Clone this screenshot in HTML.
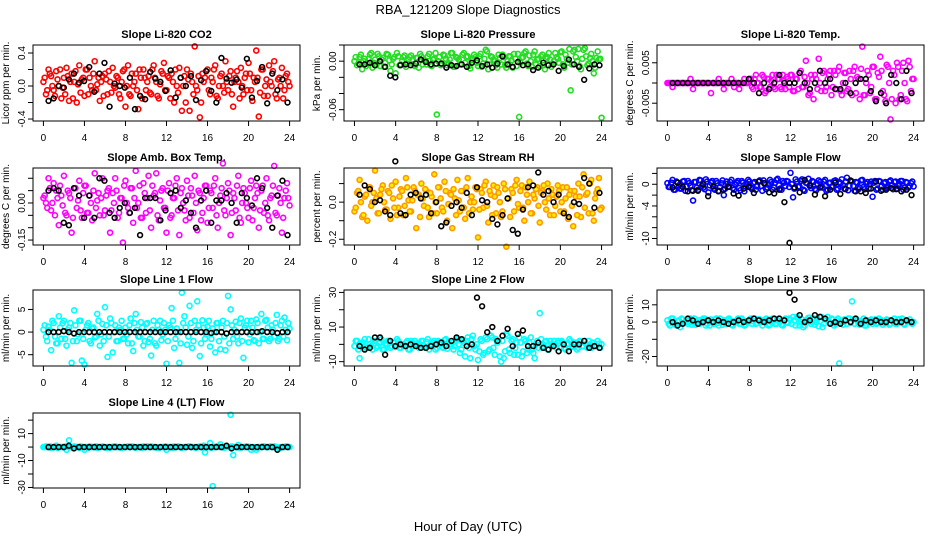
<!DOCTYPE html>
<html><head><meta charset="utf-8"><style>
html,body{margin:0;padding:0;background:#fff;}
svg{display:block;font-family:"Liberation Sans",Arial,sans-serif;}
</style></head><body>
<svg id="chart" width="936" height="540" viewBox="0 0 936 540" xmlns="http://www.w3.org/2000/svg">
<text x="468" y="14" text-anchor="middle" font-size="13">RBA_121209  Slope Diagnostics</text>
<text x="468" y="531" text-anchor="middle" font-size="13">Hour of Day (UTC)</text>
</svg>
<script>
// ---- data ----
// colored series A: every 0.25 h from 0 to 24; colored series B: 0.125 h offset; black series: ~every 0.5 h from 0.5 to 23.8
const xTicks = [0,4,8,12,16,20,24];
const co2Vals = [0.05,-0.1,0.2,0.12,-0.05,0.18,0.0,-0.15, 0.1,0.22,-0.18,0.15,0.05,-0.2,0.25,0.08, -0.12,0.2,0.1,-0.05,0.3,0.02,-0.18,0.12, 0.15,-0.1,0.05,0.22,-0.02,0.1,-0.15,0.18, -0.25,0.25,-0.12,0.0,0.15,-0.28,0.1,0.2, -0.05,0.12,-0.1,0.25,0.05,-0.15,0.18,0.28, -0.05,0.1,0.15,-0.2,0.0,0.22,-0.3,0.12, 0.2,-0.3,0.05,0.48,-0.05,-0.38,0.15,0.1, 0.2,-0.1,0.05,0.25,-0.15,0.12,0.0,0.3, -0.05,0.18,-0.25,0.1,0.05,0.22,-0.1,0.15, 0.28,-0.05,0.1,0.43,-0.37,0.2,-0.12,0.08, 0.25,0.0,0.3,-0.15,0.1,0.22,-0.05,0.15, 0.0];
const co2ValsB = [0.1,-0.05,0.15,0.0,-0.12,0.08,0.2,-0.02, -0.1,0.12,0.05,-0.15,0.18,0.02,-0.08,0.1, 0.2,-0.1,0.0,0.15,-0.05,0.1,0.05,-0.12, 0.08,0.18,-0.08,0.0,0.12,-0.1,0.05,0.2, 0.0,-0.1,0.15,0.05,-0.05,0.2,-0.15,0.1, 0.05,-0.08,0.2,0.1,-0.12,0.02,0.15,-0.05, 0.12,-0.15,0.05,0.2,-0.08,0.1,0.0,-0.2, 0.08,0.15,-0.1,0.0,0.12,-0.2,0.05,0.18, -0.05,0.1,0.2,-0.12,0.0,0.15,-0.08,0.05, 0.12,-0.1,0.05,0.18,-0.15,0.0,0.1,-0.05, 0.15,-0.18,0.05,0.1,-0.08,0.2,0.0,-0.12, 0.05,0.18,-0.1,0.08,0.0,-0.15,0.12,0.05];
const co2Black = [-0.18,-0.15,0.0,-0.02,0.08,0.15,0.04,0.06, 0.23,-0.07,0.15,0.28,-0.25,0.03,0.0,-0.02, 0.1,-0.28,-0.12,-0.16,0.17,0.09,0.05,-0.06, 0.19,-0.14,0.1,0.0,0.12,-0.17,0.07,0.18, -0.06,-0.2,0.34,0.09,0.04,0.08,-0.02,0.33, -0.14,0.06,0.23,-0.21,0.15,-0.05,0.08,-0.2];
const presVals = [0.0,-0.005,0.005,-0.01,0.003,-0.003,0.008,-0.008, 0.002,0.009,-0.006,0.004,-0.002,0.008,-0.012,0.003, -0.015,0.006,-0.004,0.005,-0.007,0.002,0.007,-0.005, 0.004,-0.008,0.006,0.001,-0.004,0.009,-0.006,0.003, -0.066,0.005,-0.003,0.007,-0.005,0.002,0.01,-0.007, 0.004,-0.004,0.008,-0.002,0.006,-0.009,0.003,0.005, -0.006,0.009,-0.003,0.014,-0.01,0.006,0.002,-0.005, 0.008,-0.004,0.005,-0.008,0.006,0.001,0.009,-0.006, -0.069,0.004,0.01,-0.003,0.007,-0.007,0.012,0.002, -0.006,0.008,-0.01,0.005,0.002,-0.004,0.01,0.003, 0.011,-0.004,0.008,-0.002,-0.036,0.012,0.005,0.015, -0.01,0.014,0.006,-0.003,0.009,-0.015,0.004,0.002, -0.07];
const presValsB = [0.005,-0.003,0.008,0.0,-0.006,0.003,0.01,-0.002, -0.005,0.006,0.002,-0.007,0.009,0.001,-0.004,0.005, 0.01,-0.005,0.0,0.007,-0.003,0.005,0.002,-0.006, 0.004,0.009,-0.004,0.0,0.006,-0.005,0.002,0.01, 0.0,-0.005,0.008,0.003,-0.002,0.01,-0.007,0.005, 0.002,-0.004,0.01,0.005,-0.006,0.001,0.008,-0.002, 0.006,-0.007,0.003,0.012,-0.004,0.005,0.0,-0.008, 0.004,0.008,-0.005,0.0,0.006,-0.008,0.003,0.009, -0.002,0.005,0.012,-0.006,0.0,0.008,-0.004,0.003, 0.006,-0.005,0.003,0.01,-0.007,0.0,0.005,-0.002, 0.012,-0.008,0.003,0.015,-0.004,0.014,0.0,-0.006, 0.003,0.016,-0.005,0.004,0.0,-0.008,0.012,0.003];
const presBlack = [-0.004,-0.004,-0.002,-0.005,0.0,-0.007,-0.018,-0.02, -0.005,-0.004,-0.005,-0.003,0.002,-0.001,-0.004,-0.003, -0.003,-0.008,-0.005,-0.006,-0.004,-0.007,-0.002,0.001, -0.006,-0.004,-0.008,-0.003,0.006,-0.004,-0.007,-0.001, -0.005,-0.004,-0.011,-0.008,-0.002,-0.005,-0.004,-0.012, -0.006,0.002,-0.004,-0.007,-0.023,-0.009,-0.004,-0.005];
const tempVals = [0,0,-0.001,0,0,0,0,0, 0,0.001,-0.0015,0,0,0,0,0, 0,-0.0025,0,0,0.001,0,-0.0015,0, 0,0.001,-0.001,0,-0.0015,0,0.001,0, 0.001,-0.001,0.001,0,-0.001,0.002,-0.0025,0.001, -0.001,0.002,-0.0015,0.001,-0.001,0.002,-0.0015,0.001, 0.002,-0.002,0.001,-0.0015,0.003,-0.001,0.0055,-0.003, 0.002,-0.004,0.001,0.006,-0.002,0.003,-0.001,0.002, -0.003,0.003,-0.0015,0.004,-0.003,0.0025,-0.002,0.003, -0.003,0.004,0.0015,-0.004,0.009,-0.003,0.003,-0.0025, 0.004,-0.004,0.0025,0.0065,-0.002,-0.0045,0.004,-0.009, 0.003,-0.005,0.004,-0.003,0.005,-0.004,0.0055,-0.002, 0.001];
const tempValsB = [0,0,0,0,0,0,0,0, 0,0,0,0,0,0,0,0, 0,0,0,0,0,0,0,0, 0,0,0,0,0,0,0,0, 0.001,-0.0015,0.002,0.0,-0.001,0.0015,-0.002,0.001, 0.0005,-0.001,0.002,0.001,-0.0015,0.0005,0.0015,-0.001, 0.002,-0.002,0.001,0.0025,-0.001,0.0015,0.0,-0.0025, 0.001,0.002,-0.0015,0.0,0.0025,-0.002,0.001,0.003, -0.001,0.002,0.003,-0.002,0.0,0.0025,-0.0015,0.001, 0.003,-0.0025,0.001,0.0035,-0.003,0.0,0.002,-0.001, 0.004,-0.004,0.0015,0.003,-0.003,0.0045,0.0,-0.004, 0.002,0.005,-0.004,0.003,0.0,-0.0045,0.004,0.001];
const tempBlack = [0,0,0,0,0,0,0,0, 0,0,0,0,0,0,0,0.001, 0,-0.0025,0,-0.0015,0,0.002,0,0, 0,0.0025,0,-0.0015,0,0.003,0,0.001, -0.0015,-0.0015,0,-0.0025,0,0.001,0.001,-0.002, -0.0045,-0.0025,-0.005,0.002,0,-0.004,0.003,-0.0025];
const ambVals = [0.02,0.0,0.1,-0.03,0.08,0.05,-0.09,0.03, 0.11,-0.05,0.04,-0.12,0.06,-0.02,0.09,-0.06, 0.07,-0.04,0.03,-0.07,0.12,0.01,-0.05,0.1, -0.03,0.05,-0.12,0.04,0.1,-0.06,0.02,-0.16, 0.09,-0.02,0.06,-0.08,0.13,0.0,-0.06,0.08, -0.04,0.11,-0.1,0.03,0.12,-0.07,0.05,-0.02, -0.12,0.08,-0.05,0.02,0.1,-0.13,0.06,-0.03, 0.09,-0.06,0.03,0.11,-0.11,0.04,-0.04,0.07, -0.08,0.05,-0.02,0.1,-0.1,0.03,0.16,-0.05, 0.08,-0.13,0.04,-0.03,0.11,-0.08,0.06,0.0, -0.06,0.09,-0.02,0.07,-0.1,0.05,-0.04,0.1, -0.07,0.03,0.15,-0.05,0.06,-0.12,0.02,0.08, -0.01];
const ambValsB = [0.03,-0.02,0.06,0.0,-0.05,0.02,0.07,-0.01, -0.04,0.05,0.02,-0.06,0.06,0.01,-0.03,0.04, 0.07,-0.04,0.0,0.05,-0.02,0.04,0.02,-0.05, 0.03,0.06,-0.03,0.0,0.05,-0.04,0.02,0.07, 0.0,-0.04,0.06,0.02,-0.02,0.07,-0.06,0.04, 0.02,-0.03,0.07,0.04,-0.05,0.01,0.06,-0.02, 0.05,-0.06,0.02,0.07,-0.03,0.04,0.0,-0.07, 0.03,0.06,-0.04,0.0,0.05,-0.07,0.02,0.07, -0.02,0.04,0.07,-0.05,0.0,0.06,-0.03,0.02, 0.05,-0.04,0.02,0.07,-0.06,0.0,0.04,-0.02, 0.06,-0.07,0.02,0.04,-0.03,0.07,0.0,-0.05, 0.02,0.07,-0.04,0.03,0.0,-0.06,0.05,0.02];
const ambBlack = [0.05,0.06,0.05,-0.08,-0.09,0.06,0.03,-0.06, 0.03,-0.06,0.1,0.09,-0.04,-0.06,-0.02,0.0, -0.04,-0.02,-0.13,0.02,0.02,0.02,-0.07,-0.03, 0.04,0.05,-0.02,0.01,-0.04,-0.1,0.01,0.05, -0.08,0.01,0.01,0.04,0.0,-0.08,0.04,0.02, -0.01,0.1,0.06,-0.02,-0.1,0.03,0.09,-0.13];
const rhVals = [-0.05,0.05,0.12,-0.08,0.03,-0.1,0.08,0.0, 0.17,-0.06,0.04,0.09,-0.04,0.06,-0.09,0.02, 0.11,-0.03,0.07,-0.07,0.13,0.01,-0.05,0.08, -0.14,0.04,0.1,-0.02,0.06,-0.08,0.03,0.15, -0.06,0.08,-0.03,0.11,-0.1,0.05,-0.14,0.02, 0.12,-0.05,0.06,-0.09,0.13,0.0,-0.04,0.08, -0.19,0.07,-0.03,0.11,-0.11,0.04,0.09,-0.06, 0.05,-0.08,0.1,-0.24,0.02,0.07,-0.05,0.12, -0.03,0.09,-0.1,0.04,0.11,-0.06,0.02,0.08, -0.11,0.06,0.0,0.1,-0.07,0.04,-0.02,0.09, -0.05,0.08,0.02,-0.09,0.06,-0.13,0.03,0.1, -0.08,0.15,0.04,-0.06,0.12,-0.1,0.05,0.13, -0.03];
const rhValsB = [-0.03,0.06,0.0,-0.07,0.04,0.08,-0.02,0.05, 0.02,-0.06,0.07,0.0,-0.04,0.05,0.09,-0.03, -0.07,0.03,0.06,-0.02,0.08,-0.05,0.01,0.06, 0.04,-0.08,0.02,0.07,-0.03,0.05,-0.06,0.0, 0.08,0.02,-0.05,0.06,-0.01,0.04,0.07,-0.07, 0.01,0.06,-0.03,0.08,-0.06,0.03,0.0,0.07, -0.04,0.05,0.09,-0.02,0.06,-0.07,0.03,0.08, 0.0,-0.05,0.07,0.02,-0.08,0.05,0.09,-0.01, 0.06,-0.03,0.08,0.0,-0.06,0.04,0.07,-0.02, 0.05,0.09,-0.04,0.02,0.07,-0.07,0.03,0.06, 0.0,-0.05,0.08,0.04,-0.02,0.06,-0.07,0.03, 0.08,-0.03,0.05,0.1,-0.06,0.02,0.07,-0.04];
const rhBlack = [0.04,0.09,0.07,0.0,0.01,-0.05,-0.07,0.22, -0.06,-0.07,0.04,0.05,0.02,0.04,-0.06,0.0, -0.13,-0.11,-0.02,0.0,-0.03,0.05,-0.07,0.08, 0.01,0.0,-0.09,-0.12,-0.07,0.02,-0.15,-0.17, -0.04,0.08,0.09,0.16,0.04,0.06,0.0,0.04, -0.06,-0.08,0.0,-0.01,0.13,0.1,-0.03,0.05];
const sampVals = [0.2,-0.5,0.8,-1.0,0.3,-0.8,0.5,-1.2, 0.6,-0.3,-3.0,0.4,-1.0,0.7,-0.6,0.9, -1.5,0.3,-0.8,0.6,-1.2,0.2,-2.0,0.5, -0.4,0.8,-1.0,0.3,-0.7,0.6,-1.3,0.1, 0.5,-0.9,0.4,-0.4,0.7,-1.2,0.2,-0.6, 0.8,-1.0,0.3,1.0,-0.8,0.6,-0.3,0.5, 2.1,-2.4,0.9,-0.5,0.6,-1.0,0.3,1.0, -0.7,0.4,-1.1,0.7,-0.4,0.5,-1.2,0.2, -0.5,0.6,-1.0,0.4,0.9,-0.8,1.2,-0.3, 0.5,-1.2,0.3,-0.6,0.8,-0.9,0.4,0.1, -2.3,0.6,-0.8,0.5,-1.0,0.4,-0.5,0.7, -0.9,0.5,-0.3,0.6,-1.0,0.4,-0.6,0.2, -0.4];
const sampValsB = [-0.5,0.3,-1.0,0.5,-0.2,-0.8,0.6,-0.4, 0.2,-1.1,0.4,-0.6,0.8,-0.3,-0.9,0.5, -0.2,0.6,-1.0,0.2,-0.5,0.7,-0.8,0.1, 0.4,-0.7,0.0,0.6,-1.1,0.3,-0.4,0.8, -0.6,0.2,-1.0,0.5,-0.3,0.7,-0.9,0.0, 0.4,-0.6,0.8,-0.2,-1.0,0.3,0.6,-0.5, 0.0,-0.8,0.5,-0.4,0.9,-1.2,0.2,-0.3, 0.6,-0.9,0.1,0.4,-0.6,0.8,-1.0,0.3, -0.4,0.7,-0.8,0.2,-0.2,0.5,-1.1,0.6, -0.3,0.4,-0.9,0.7,-0.5,0.1,-0.8,0.5, 0.3,-1.0,0.6,-0.4,0.2,-0.7,0.5,-0.2, 0.4,-0.8,0.1,0.6,-0.6,0.3,-0.3,0.5];
const sampBlack = [-0.6,0.3,-0.5,-1.3,-1.2,-1.2,0.0,-2.2, -0.4,-1.3,-1.0,-0.5,-1.7,-2.1,-0.8,-0.5, -1.6,0.5,0.2,-1.5,-1.7,-1.0,-3.3,-10.8, -0.6,-1.5,0.8,-0.2,-1.9,-0.6,-2.2,-1.0, 0.3,-1.8,-0.9,0.7,-1.3,-1.3,-1.6,-0.8, 0.5,-1.2,-1.0,-0.7,-0.9,-1.3,-1.0,-2.0];
const l1Vals = [0.5,-1,1.2,-4,2,-2.5,3.5,-1.5, 2.5,-3,1,-6.8,4.8,-2,2.5,-6.3, -7.2,1.5,-2,0.8,-1.2,4,-3,1.8, 5.5,-5.5,3,-4.5,1.5,-2,0.5,-1.5, 1,-2.5,3,-4.2,4,-1,2.2,-3, 1.8,-2.2,-5.2,2.5,-3,0.5,-1.8,2, -7,1.5,5.3,-3.5,0.8,-6.8,8.7,3.5, -2.8,5.8,-3.5,2.5,6.8,-5.3,2.6,-1.5, 1.2,-3.2,0.8,-4.5,2,-3.8,2.5,-4, 8,5,-1.5,2.3,-2.5,3,-5.7,1.5, -2.3,2.5,-1.8,2.8,-2.5,4,-1.5,2.7, -2,1.5,-1,3.8,-1.5,2.5,3.2,-1.8, 0.8];
const l1ValsB = [1.5,-2,0.5,2.5,-1,-2.5,1,2, -1.5,0.5,2,-2,1.5,-0.5,2.5,-1.5, 0.5,2,-2.5,1,-1,2.5,-0.5,-2, 1.5,-1,2,0,-2,1,2.5,-1.5, -0.5,1.5,-2.5,2,0.5,-1,1,-2, 2,-1.5,0.5,-2.5,1.5,2.5,-0.5,0.5, -2,1,2.5,-1.5,0,-2.5,2,1, -1,2,-2,0.5,1.5,-2.5,1,-0.5, 2.5,-1.5,0,2,-2,1,-1,2, -2.5,1.5,0.5,-1,2,-2,1,2.5, -0.5,1,-2,2,0,-1.5,2.5,1, -1.5,0.5,2,-2,1.5,-1,0.5,2];
const l1Black = [0,0,0,0.2,0,-0.3,0,0, 0,0,0,0,0,0,0,0, 0,0,0,0,0,0,0,0, 0,0,0,0,0,0,0,0, -0.2,0,0,-0.3,0,0,0,0, 0,0,0.2,0,0,-0.2,0,0];
const l2Vals = [-1,2,-8,1,3,-2,0,-3, 2,-1,1,-3,0.5,2,-2,1, -1.5,2,-2,0,1,-3,2,-1, 0.5,-2,2,-1,1.5,-3,0,2, -2,1,-1.5,2.5,-2.5,0,1,-1, 3,-5,2,-7,4,-8,5,-3, -9,3,-6,4,-4,5,-2,3, 2,-10,-8,6,-3,2,-6,1, 4,-7,3,-5,1,-3,-8,2, 18,-2,1.5,-3,2,-1,0,2, -2,1,-3,0.5,2,-1.5,1,-2, 1.5,-1,0,2,-2,1,-1,0.5, 0];
const l2ValsB = [2,-3,0,1,-2,3,-1,0, -2,1,3,-3,0,2,-1,1, 3,-2,0,-1,2,-3,1,2, -1,0,2,-2,3,-1,1,-3, 2,0,-2,3,1,-1,-3,2, 0,-3,1,2,-2,3,-1,0, -4,2,-5,3,-3,4,-6,1, -7,2,-4,5,-5,3,-2,-6, 1,-4,2,-3,4,-5,0,-2, 3,-1,2,-3,0,2,-2,1, 2,-2,0,3,-1,1,-3,2, -1,2,-2,0,1,-1,2,-2];
const l2Black = [-1,-3,-2,4,4,-6,2,-1, 0,-1,0,-1,-2,-2,-1,0, 1,-1,2,4,3,-1,0,27, 22,7,10,2,5,9,-1,6, 8,-1,-1,1,-2,-3,-1,-4, 0,-4,0,0,2,-2,-1,-2];
const l3Vals = [1,-2,2,-1,0.5,-3,1.5,0, -1,2,0,-1.5,1,-0.5,2,-2, 0.5,1.5,-1,2,-2,0,1,-1, 2,-1.5,0,1,-1,2,-2,0.5, 1,-1,2,-0.5,1.5,-2,0,1, -1.5,2,-1,1,0,-2,2,-0.5, 1.5,3,-2,2,0,-3,1,2.5, -1,2,0,-2.5,3,-1,1.5,0, 2,-2,1,-24,0,1.5,-1,2, 12,-1,1,-1.5,-1,-2,0.5,1, -1,1.5,-0.5,1,-1.5,0.5,1,-1, 0.5,-1,1.5,0,-1,1,0.5,-0.5, 0];
const l3ValsB = [-1,2,0,-2,1,2,-0.5,1, 0,-1.5,2,0,-1,1.5,2,-1, -2,0.5,1.5,-0.5,2,-1.5,0,1.5, 1,-2,0.5,2,-1,1,-1.5,0, 2,0.5,-1,1.5,0,1,2,-2, 0,1.5,-1,2,-1.5,1,0,2, -1,1,3,-2,1.5,-2,1,2.5, 0,-1.5,2,0.5,-3,1.5,3,-0.5, 1.5,-1,2,0,-1.5,1,2,-0.5, 1.5,2,-1,0.5,2,-2,1,1.5, 0,-1,2,1,-0.5,1.5,-1.5,1, 2,-1,1.5,2,-1.5,0.5,1.5,-1];
const l3Black = [0,-2,-1,2,1,-1,0,1, 0,1,0,-1,0,1,0,1, 2,1,0,1,2,2,1,17, 13,4,0,1,4,3,2,-1, 0,-1,1,0,2,-1,1,0, 1,0,0,1,0,0,1,0];
const l4Vals = [0,0.5,0,-0.5,0,1,0,0, 0,-2,5,0,0.5,0,-0.5,0, -2,0,0.5,0,0,-0.5,0,0.5, 0,0,-0.5,0,0.5,0,0,0, 0,0.5,0,0,-0.5,0,0,0.5, 0,0,0.5,0,0,-0.5,0,0, -2,0,0,0.5,0,0,-0.5,0, 0,0.5,0,0,0,0.5,0,-4, 0,3,-29,0,0.5,2,0,0, 0,24,-6,0,1.5,0,0,0.5, 0,-2,0,-2,0,0,0.5,0, 0,0,0.5,0,-1,0,0,0.5, 0];
const l4ValsB = [0,0,0.5,0,0,-0.5,0,0, 0.5,0,0,-0.5,0,0,0.5,0, 0,-0.5,0,0,0.5,0,0,0, -0.5,0,0,0.5,0,0,-0.5,0, 0,0,0.5,0,0,0,-0.5,0, 0.5,0,0,0,-0.5,0,0,0.5, 0,0,-0.5,0,0.5,0,0,0, 0.5,0,0,-0.5,0,0,1,0, 0,-0.5,0,0.5,0,0,-0.5,0, 0,0.5,0,0,-0.5,0,0,0.5, 0,0,-0.5,0,0,0.5,0,0, 0.5,0,0,-0.5,0,0,0.5,0];
const l4Black = [0,0,0,0,1,-1,0,0, 0,0,0,0,0,0,0,0, 0,0,0,0,0,0,0,0, 0,0,0,0,0,0,0,0, 0,0,0,1,-1,0,0,0, 0,0,0,0,0,-2,0,0];

const yTicksCO2=[-0.4,-0.2,0,0.2,0.4], yLabCO2=["-0.4","0.0","0.4"];
const yTicksPres=[0.02,0,-0.02,-0.04,-0.06], yLabPres=["0.00","-0.06"];
const yTicksTemp=[0.005,0,-0.005], yLabTemp=["0.005","-0.005"];
const yTicksAmb=[0.1,0.05,0,-0.05,-0.1,-0.15], yLabAmb=["0.00","-0.15"];
const yTicksRH=[0.1,0,-0.1,-0.2], yLabRH=["0.0","-0.2"];
const yTicksSamp=[2,0,-2,-4,-6,-8,-10], yLabSamp=["0","-4","-10"];
const yTicksL1=[5,0,-5], yLabL1=["5","0","-5"];
const yTicksL2=[30,20,10,0,-10], yLabL2=["30","10","-10"];
const yTicksL3=[10,0,-10,-20], yLabL3=["10","0","-20"];
const yTicksL4=[20,10,0,-10,-20,-30], yLabL4=["10","-10","-30"];

const cols=[[33,300],[344,612],[657,924]];
const rows=[[45,121],[168,245],[290,366],[413,488]];
const panels=[
 {name:"co2",title:"Slope Li-820 CO2",yt:"Licor ppm per min.",c:0,r:0,ymin:-0.424,ymax:0.497,ticks:yTicksCO2,labs:yLabCO2,vals:co2Vals,valsB:co2ValsB,blk:co2Black,stroke:"#ff0000",fill:"none"},
 {name:"pressure",title:"Slope Li-820 Pressure",yt:"kPa per min.",c:1,r:0,ymin:-0.074,ymax:0.02,ticks:yTicksPres,labs:yLabPres,vals:presVals,valsB:presValsB,blk:presBlack,stroke:"#22dd22",fill:"none"},
 {name:"li820-temp",title:"Slope Li-820 Temp.",yt:"degrees C per min.",c:2,r:0,ymin:-0.0094,ymax:0.0094,ticks:yTicksTemp,labs:yLabTemp,vals:tempVals,valsB:tempValsB,blk:tempBlack,stroke:"#ff00ff",fill:"none"},
 {name:"amb-box-temp",title:"Slope Amb. Box Temp.",yt:"degrees C per min.",c:0,r:1,ymin:-0.17,ymax:0.1415,ticks:yTicksAmb,labs:yLabAmb,vals:ambVals,valsB:ambValsB,blk:ambBlack,stroke:"#ff00ff",fill:"none"},
 {name:"gas-stream-rh",title:"Slope Gas Stream RH",yt:"percent per min.",c:1,r:1,ymin:-0.231,ymax:0.184,ticks:yTicksRH,labs:yLabRH,vals:rhVals,valsB:rhValsB,blk:rhBlack,stroke:"#ff9900",fill:"#ffee00"},
 {name:"sample-flow",title:"Slope Sample Flow",yt:"ml/min per min.",c:2,r:1,ymin:-11.2,ymax:3.0,ticks:yTicksSamp,labs:yLabSamp,vals:sampVals,valsB:sampValsB,blk:sampBlack,stroke:"#0000ff",fill:"none"},
 {name:"line1-flow",title:"Slope Line 1 Flow",yt:"ml/min per min.",c:0,r:2,ymin:-7.5,ymax:9.3,ticks:yTicksL1,labs:yLabL1,vals:l1Vals,valsB:l1ValsB,blk:l1Black,stroke:"#00ffff",fill:"none"},
 {name:"line2-flow",title:"Slope Line 2 Flow",yt:"ml/min per min.",c:1,r:2,ymin:-12.5,ymax:31.4,ticks:yTicksL2,labs:yLabL2,vals:l2Vals,valsB:l2ValsB,blk:l2Black,stroke:"#00ffff",fill:"none"},
 {name:"line3-flow",title:"Slope Line 3 Flow",yt:"ml/min per min.",c:2,r:2,ymin:-25.5,ymax:18.6,ticks:yTicksL3,labs:yLabL3,vals:l3Vals,valsB:l3ValsB,blk:l3Black,stroke:"#00ffff",fill:"none"},
 {name:"line4-flow",title:"Slope Line 4 (LT) Flow",yt:"ml/min per min.",c:0,r:3,ymin:-30.4,ymax:25.3,ticks:yTicksL4,labs:yLabL4,vals:l4Vals,valsB:l4ValsB,blk:l4Black,stroke:"#00ffff",fill:"none"}
];
const NS="http://www.w3.org/2000/svg";
const svg=document.getElementById('chart');
function mk(tag,attrs,parent){const e=document.createElementNS(NS,tag);for(const k in attrs)e.setAttribute(k,attrs[k]);(parent||svg).appendChild(e);return e;}
panels.forEach(p=>{
  const [L,R]=cols[p.c],[T,B]=rows[p.r];
  const g=mk('g',{});
  
  
  const xs=h=>L+(R-L)*(0.039+0.922*h/24);
  const ys=v=>B-(B-T)*(v-p.ymin)/(p.ymax-p.ymin);
  const t=mk('text',{x:(L+R)/2,y:T-7,'text-anchor':'middle','font-size':'11','font-weight':'bold'},g);
  t.textContent=p.title;
  
  
  const yt=mk('text',{x:0,y:0,'text-anchor':'middle','font-size':'10',transform:`translate(${L-24},${(T+B)/2}) rotate(-90)`},g);
  yt.textContent=p.yt;
  
  
  const xa=mk('g',{},g);
  
  
  xTicks.forEach(h=>{
    mk('line',{x1:xs(h),x2:xs(h),y1:B,y2:B+5,stroke:'#000','stroke-width':1},xa);
    const tl=mk('text',{x:xs(h),y:B+20,'text-anchor':'middle','font-size':'10'},xa);
    tl.textContent=String(h);
    
    
  });
  const ya=mk('g',{},g);
  
  
  p.ticks.forEach(v=>{mk('line',{x1:L-5,x2:L,y1:ys(v),y2:ys(v),stroke:'#000','stroke-width':1},ya);});
  p.labs.forEach(s=>{
    const v=parseFloat(s);
    const tl=mk('text',{x:0,y:0,'text-anchor':'middle','font-size':'10',transform:`translate(${L-8},${ys(v)}) rotate(-90)`},ya);
    tl.textContent=s;
    
    
  });
  const cs=mk('g',{},g);
  
  
  const n=p.vals.length;
  p.vals.forEach((v,i)=>{
    const c=mk('circle',{cx:xs(i*24/(n-1)),cy:ys(v),r:2.5,fill:p.fill,stroke:p.stroke,'stroke-width':1.6},cs);
    
    
  });
  const nb=p.valsB.length;
  p.valsB.forEach((v,i)=>{
    const c=mk('circle',{cx:xs((i+0.5)*24/nb),cy:ys(v),r:2.5,fill:p.fill,stroke:p.stroke,'stroke-width':1.6},cs);
    
    
  });
  const bs=mk('g',{},g);
  
  
  const m=p.blk.length;
  p.blk.forEach((v,i)=>{
    const c=mk('circle',{cx:xs(0.5+i*23.3/(m-1)),cy:ys(v),r:2.4,fill:'none',stroke:'#000','stroke-width':1.6},bs);
    
    
  });
  const box=mk('rect',{x:L,y:T,width:R-L,height:B-T,fill:'none',stroke:'#000','stroke-width':1},g);
  
  
});
</script>
</body></html>
